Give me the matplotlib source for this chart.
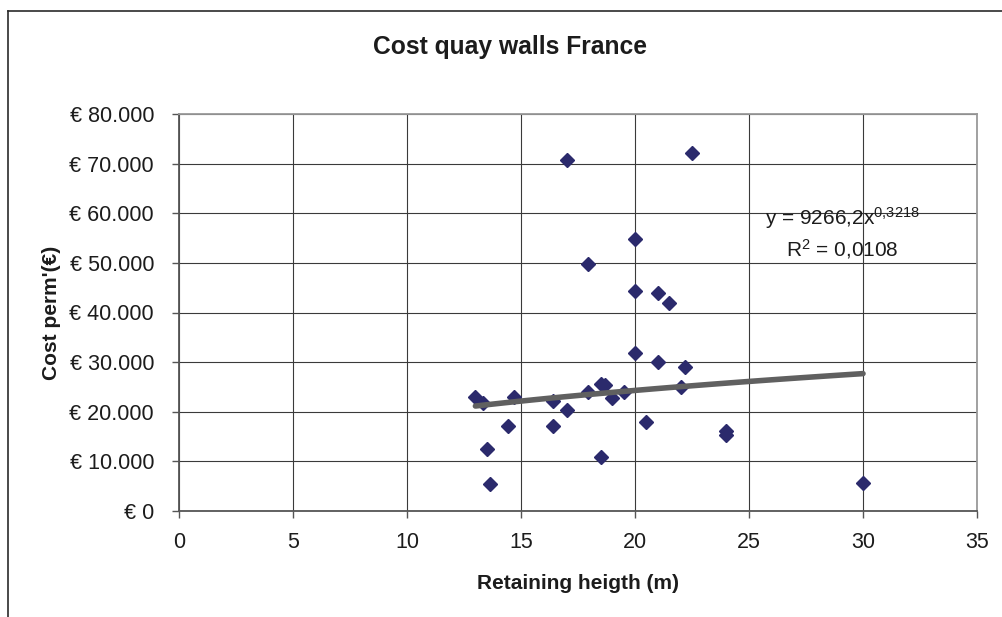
import numpy as np
import matplotlib
matplotlib.use("Agg")
import matplotlib.pyplot as plt
from matplotlib.lines import Line2D

plt.rcParams['font.family'] = ['Liberation Sans', 'DejaVu Sans']
plt.rcParams['mathtext.fontset'] = 'custom'
plt.rcParams['mathtext.rm'] = 'Liberation Sans'
plt.rcParams['mathtext.it'] = 'Liberation Sans'

############################################
#  Data                 #
############################################

# retaining height (m)
heights = [13.0, 13.35, 14.7, 14.45, 13.5, 13.65, 16.4, 17.0, 16.4, 17.95,
           18.5, 18.7, 19.0, 19.5, 18.5, 20.0, 21.0, 20.5, 22.2, 22.0,
           24.0, 24.0, 17.0, 22.5, 20.0, 17.95, 20.0, 21.0, 21.5, 30.0]

# cost per metre (EUR)
costs = [22900, 21800, 23000, 17100, 12500, 5400, 22200, 20300, 17100, 24000,
         25600, 25400, 22800, 24000, 10800, 31900, 30000, 17900, 29000, 25000,
         16200, 15400, 70800, 72100, 54800, 49700, 44300, 44000, 41900, 5700]

# power trendline as printed on the chart: y = a * x^b
TREND_A = 9266.2
TREND_B = 0.3218
TREND_R2 = "0,0108"

X_TICKS = [0, 5, 10, 15, 20, 25, 30, 35]
Y_TICKS = [0, 10000, 20000, 30000, 40000, 50000, 60000, 70000, 80000]
Y_TICK_LABELS = ["€ 0", "€ 10.000", "€ 20.000", "€ 30.000", "€ 40.000",
                 "€ 50.000", "€ 60.000", "€ 70.000", "€ 80.000"]

TEXT_COLOR = "#1c1c1c"
MARKER_COLOR = "#2b2a6c"
TREND_COLOR = "#606060"

W, H = 1002, 617

fig = plt.figure(figsize=(W / 100, H / 100), dpi=100)
ax = fig.add_axes([179 / W, 1 - 511 / H, (977 - 179) / W, (511 - 114) / H])

# outer chart border (runs off the right and bottom edge)
fig.add_artist(Line2D([7.5 / W, 1.01], [1 - 10.5 / H, 1 - 10.5 / H],
                      transform=fig.transFigure, color="#2a2a2a", lw=1.2))
fig.add_artist(Line2D([7.5 / W, 7.5 / W], [1 - 10.5 / H, -0.01],
                      transform=fig.transFigure, color="#2a2a2a", lw=1.2))

# grid
ax.set_axisbelow(True)
ax.grid(True, color="#3a3a3a", lw=0.8)

# scatter points
ax.plot(heights, costs, linestyle="none", marker="D", ms=7.5,
        color=MARKER_COLOR, mec=MARKER_COLOR, zorder=3)

# trendline over the data range
tx = np.linspace(min(heights), max(heights), 100)
ax.plot(tx, TREND_A * tx ** TREND_B, color=TREND_COLOR, lw=4,
        solid_capstyle="round", zorder=4)

ax.set_xlim(0, 35)
ax.set_ylim(0, 80000)
ax.set_xticks(X_TICKS)
ax.set_yticks(Y_TICKS)
ax.set_yticklabels(Y_TICK_LABELS)

for side in ["left", "bottom"]:
    ax.spines[side].set_color("#555555")
    ax.spines[side].set_linewidth(1.3)
for side in ["top", "right"]:
    ax.spines[side].set_color("#9a9a9a")
    ax.spines[side].set_linewidth(1.3)

ax.tick_params(axis="both", direction="out", length=5, width=1,
               color="#555555", labelsize=15.5, labelcolor=TEXT_COLOR)
ax.tick_params(axis="y", pad=13)
ax.tick_params(axis="x", pad=10)

ax.set_xlabel("Retaining heigth (m)", fontsize=15, fontweight="bold",
              color=TEXT_COLOR, labelpad=15)
ax.set_ylabel("Cost perm'(€)", fontsize=15, fontweight="bold",
              color=TEXT_COLOR, labelpad=6)

fig.text(510 / W, 1 - 47 / H, "Cost quay walls France", fontsize=17.7,
         fontweight="bold", color=TEXT_COLOR, ha="center", va="center")

# trendline equation
a_str = f"{TREND_A:.1f}".replace(".", ",")
b_str = f"{TREND_B:.4f}".replace(".", "{,}")
fig.text(842 / W, 1 - 225 / H, "y = " + a_str + "x$^{\\mathregular{" + b_str + "}}$",
         fontsize=15, color=TEXT_COLOR, ha="center", va="baseline")
fig.text(842 / W, 1 - 256 / H, "R$^{\\mathregular{2}}$ = " + TREND_R2,
         fontsize=15, color=TEXT_COLOR, ha="center", va="baseline")

fig.savefig("out.png", dpi=100)
